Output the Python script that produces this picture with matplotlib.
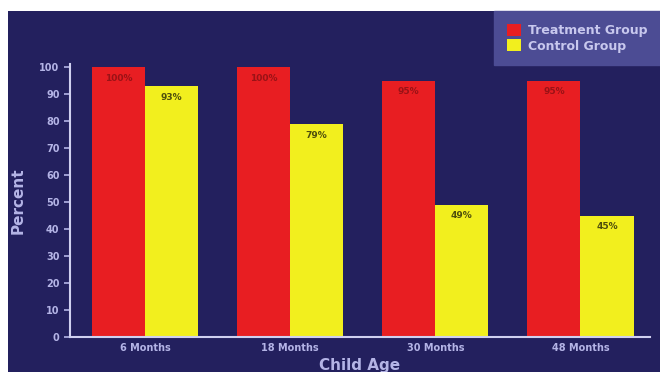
import matplotlib.pyplot as plt
import numpy as np

# datos del grafico
edades = ['6 Months', '18 Months', '30 Months', '48 Months']
tratamiento = [100, 100, 95, 95]
control = [93, 79, 49, 45]

fondo = '#23205e'
texto = '#b4b4e6'
rojo = '#e81e22'
amarillo = '#f2ef1e'

fig = plt.figure(figsize=(6.6, 3.72), dpi=100, facecolor='white')
# banda oscura de fondo (deja un borde blanco arriba y a la izquierda)
fig.patches.append(plt.Rectangle((0.012, 0), 0.988, 0.97, transform=fig.transFigure,
                                 facecolor=fondo, edgecolor='none', zorder=-10))

ax = fig.add_axes([0.106, 0.094, 0.879, 0.733])
ax.set_facecolor(fondo)

x = np.arange(len(edades))
ancho = 0.366
b1 = ax.bar(x - ancho / 2, tratamiento, ancho, color=rojo, label='Treatment Group', zorder=2)
b2 = ax.bar(x + ancho / 2, control, ancho, color=amarillo, label='Control Group', zorder=2)

for barra, v in zip(b1, tratamiento):
    ax.text(barra.get_x() + barra.get_width() / 2, v - 2.5, f'{v}%', ha='center', va='top',
            fontsize=6.5, fontweight='bold', color='#9a1216')
for barra, v in zip(b2, control):
    ax.text(barra.get_x() + barra.get_width() / 2, v - 2.5, f'{v}%', ha='center', va='top',
            fontsize=6.5, fontweight='bold', color='#4e4e0c')

ax.set_xlim(-0.517, 3.48)
ax.set_ylim(0, 101)
ax.set_yticks(range(0, 101, 10))
ax.set_xticks(x)
ax.set_xticklabels(edades)
ax.tick_params(axis='y', colors=texto, labelsize=7, length=4, width=1.2, direction='out')
ax.tick_params(axis='x', colors=texto, labelsize=7, length=0, pad=4)
for t in ax.get_xticklabels() + ax.get_yticklabels():
    t.set_fontweight('bold')

for lado in ['top', 'right']:
    ax.spines[lado].set_visible(False)
for lado in ['left', 'bottom']:
    ax.spines[lado].set_color('#d0d0f0')
    ax.spines[lado].set_linewidth(1.5)

ax.set_ylabel('Percent', color=texto, fontsize=11, fontweight='bold', labelpad=10)
ax.set_xlabel('Child Age', color=texto, fontsize=11, fontweight='bold', labelpad=4)

leg = fig.legend(handles=[b1, b2], loc='upper right', bbox_to_anchor=(1.0, 0.97),
                 frameon=True, fancybox=False, fontsize=9, handlelength=1.1,
                 handleheight=1.1, handletextpad=0.6, borderpad=1.0, labelspacing=0.2,
                 borderaxespad=0)
leg.get_frame().set_facecolor('#4c4c94')
leg.get_frame().set_edgecolor('#4c4c94')
leg.get_frame().set_alpha(1)
for t in leg.get_texts():
    t.set_color('#c8c8ee')
    t.set_fontweight('bold')

fig.savefig('out.png', dpi=100, facecolor=fig.get_facecolor())
